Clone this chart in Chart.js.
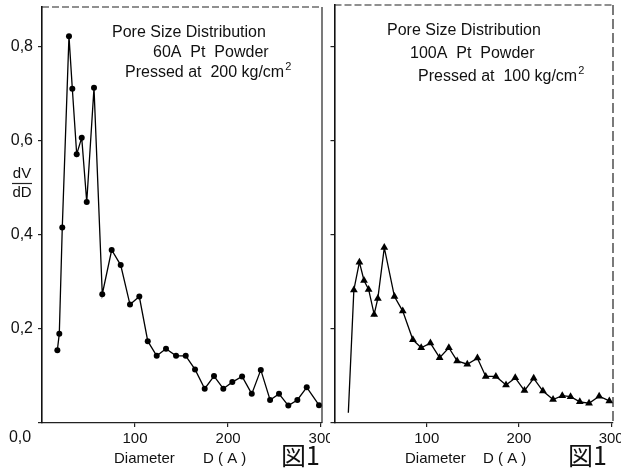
<!DOCTYPE html>
<html><head><meta charset="utf-8">
<script src="https://cdn.jsdelivr.net/npm/chart.js@4/dist/chart.umd.min.js"></script>
<style>
html,body{margin:0;padding:0;background:#fff;}
#wrap{position:relative;width:621px;height:472px;overflow:hidden;background:#fff;}
#c1{position:absolute;left:0;top:0;}
#c2{position:absolute;left:330px;top:0;}
</style></head><body>
<div id="wrap"><canvas id="c1" width="330" height="472"></canvas><canvas id="c2" width="291" height="472"></canvas></div>
<script>
// Left panel: 60A Pt powder, pressed at 200 kg/cm2 (circles)
const leftD = [16.5, 18.6, 21.8, 29, 32.6, 37.3, 42.7, 48.1, 55.9, 64.8, 74.9, 84.6, 94.6, 104.6, 113.7, 123.3, 133.3, 144.1, 154.5, 164.5, 174.9, 184.9, 194.9, 204.6, 215.1, 225.5, 235.2, 245.2, 254.8, 264.8, 274.5, 284.6, 297.8];
const leftV = [0.155, 0.19, 0.416, 0.823, 0.711, 0.572, 0.607, 0.470, 0.713, 0.274, 0.368, 0.336, 0.252, 0.269, 0.174, 0.143, 0.158, 0.143, 0.143, 0.114, 0.073, 0.10, 0.073, 0.087, 0.099, 0.062, 0.113, 0.049, 0.062, 0.037, 0.049, 0.076, 0.038];
// Right panel: 100A Pt powder, pressed at 100 kg/cm2 (triangles)
const rightD = [15, 21, 27, 32, 37, 43, 47, 54, 65, 74, 85, 94, 104, 114, 124, 133, 144, 155, 164, 175, 186, 196, 206, 216, 226, 237, 247, 256, 266, 276, 287, 298];
const rightV = [0.022, 0.283, 0.342, 0.303, 0.284, 0.231, 0.265, 0.373, 0.269, 0.238, 0.177, 0.160, 0.170, 0.139, 0.160, 0.132, 0.125, 0.138, 0.099, 0.099, 0.081, 0.096, 0.069, 0.095, 0.068, 0.050, 0.058, 0.056, 0.045, 0.042, 0.057, 0.047];

const yTicks = [0, 0.2, 0.4, 0.6, 0.8];
const yTickLabels = ['0,0', '0,2', '0,4', '0,6', '0,8'];
const xTicks = [100, 200, 300];
const xTickLabels = ['100', '200', '300'];

const leftTitle = ['Pore Size Distribution', '60A  Pt  Powder', 'Pressed at  200 kg/cm'];
const rightTitle = ['Pore Size Distribution', '100A  Pt  Powder', 'Pressed at  100 kg/cm'];
const xTitleA = 'Diameter';
const xTitleB = 'D ( A )';
const figLabel = '図1';
const yTitleTop = 'dV';
const yTitleBottom = 'dD';

const FONT = '"Liberation Sans", Arial, sans-serif';

function textPlugin(spec) {
  return {
    id: 'texts',
    afterDraw(chart) {
      const ctx = chart.ctx;
      const a = chart.chartArea;
      ctx.save();
      // top and right frame
      ctx.strokeStyle = '#222';
      ctx.lineWidth = 1.2;
      ctx.setLineDash([7, 3]);
      ctx.beginPath();
      ctx.moveTo(a.left, a.top); ctx.lineTo(a.right, a.top);
      ctx.stroke();
      ctx.setLineDash(spec.rightDash);
      ctx.beginPath();
      ctx.moveTo(a.right, a.top); ctx.lineTo(a.right, a.bottom);
      ctx.stroke();
      ctx.setLineDash([]);
      ctx.fillStyle = '#111';
      ctx.textBaseline = 'middle';
      ctx.textAlign = 'left';
      ctx.font = '16px ' + FONT;
      spec.titles.forEach(t => {
        ctx.fillText(t.text, t.x, t.y);
        if (t.sup) {
          const w = ctx.measureText(t.text).width;
          ctx.font = '11px ' + FONT;
          ctx.fillText('2', t.x + w + 1, t.y - 6);
          ctx.font = '16px ' + FONT;
        }
      });
      ctx.font = '15px ' + FONT;
      ctx.fillText(xTitleA, spec.xa, 459);
      ctx.fillText(xTitleB, spec.xb, 459);
      ctx.font = '25px "Noto Sans CJK JP", sans-serif';
      ctx.fillText(figLabel, spec.fig, 455);
      if (spec.yTitle) {
        ctx.font = '15px ' + FONT;
        ctx.textAlign = 'center';
        ctx.fillText(yTitleTop, 22, 174);
        ctx.fillText(yTitleBottom, 22, 193);
        ctx.lineWidth = 1.2;
        ctx.beginPath(); ctx.moveTo(12, 183.5); ctx.lineTo(32, 183.5); ctx.stroke();
        ctx.font = '16px ' + FONT;
        ctx.fillText(yTickLabels[0], 20, 438);
      }
      ctx.restore();
    }
  };
}

function makeChart(id, xs, ys, opts) {
  const data = xs.map((x, i) => ({x: x, y: ys[i]}));
  return new Chart(document.getElementById(id), {
    type: 'line',
    data: {datasets: [{
      data: data,
      borderColor: '#000',
      borderWidth: 1.3,
      backgroundColor: '#000',
      pointBackgroundColor: '#000',
      pointBorderColor: '#000',
      pointStyle: opts.pointStyle,
      pointRadius: opts.radius,
      pointBorderWidth: 0,
      tension: 0,
      clip: false
    }]},
    options: {
      responsive: false,
      animation: false,
      events: [],
      layout: {padding: {left: 0, right: opts.padRight, top: opts.padTop, bottom: 0}},
      plugins: {legend: {display: false}, tooltip: {enabled: false}},
      scales: {
        x: {
          type: 'linear', min: 0, max: opts.xmax,
          afterBuildTicks: s => { s.ticks = xTicks.map(v => ({value: v})); },
          afterFit: s => { s.height = 49; s.paddingLeft = 0; s.paddingRight = 0; },
          ticks: {
            callback: v => xTickLabels[xTicks.indexOf(v)],
            font: {family: FONT, size: 15}, color: '#111',
            maxRotation: 0, autoSkip: false, padding: 3
          },
          grid: {drawOnChartArea: false, drawTicks: true, tickLength: 4, color: '#222', lineWidth: 1.2},
          border: {color: '#222', width: 1.2, dash: [8, 3]}
        },
        y: {
          type: 'linear', min: 0, max: opts.ymax,
          afterBuildTicks: s => { s.ticks = yTicks.map(v => ({value: v})); },
          afterFit: s => { s.width = opts.yWidth; s.paddingTop = 0; s.paddingBottom = 0; },
          ticks: {
            callback: v => (opts.yLabels && v !== 0) ? yTickLabels[yTicks.indexOf(v)] : '',
            font: {family: FONT, size: 16}, color: '#111', padding: 5, autoSkip: false
          },
          grid: {drawOnChartArea: false, drawTicks: true, tickLength: 4, color: '#222', lineWidth: 1.2},
          border: {color: '#111', width: 1.6}
        }
      }
    },
    plugins: [textPlugin(opts.text)]
  });
}

makeChart('c1', leftD, leftV, {
  pointStyle: 'circle', radius: 3, padRight: 8, padTop: 7, ymax: 0.885, xmax: 301, yWidth: 42, yLabels: true,
  text: {
    titles: [
      {text: leftTitle[0], x: 112, y: 33},
      {text: leftTitle[1], x: 153, y: 53},
      {text: leftTitle[2], x: 125, y: 73, sup: true}
    ],
    xa: 114, xb: 203, fig: 281, yTitle: true, rightDash: []
  }
});

makeChart('c2', rightD, rightV, {
  pointStyle: 'triangle', radius: ctx => ctx.dataIndex === 0 ? 0 : 4.5, padRight: 8, padTop: 5, ymax: 0.889, xmax: 302, yWidth: 4, yLabels: false,
  text: {
    titles: [
      {text: rightTitle[0], x: 57, y: 31},
      {text: rightTitle[1], x: 80, y: 54},
      {text: rightTitle[2], x: 88, y: 77, sup: true}
    ],
    xa: 75, xb: 153, fig: 238, yTitle: false, rightDash: [10, 4]
  }
});
</script>
</body></html>
